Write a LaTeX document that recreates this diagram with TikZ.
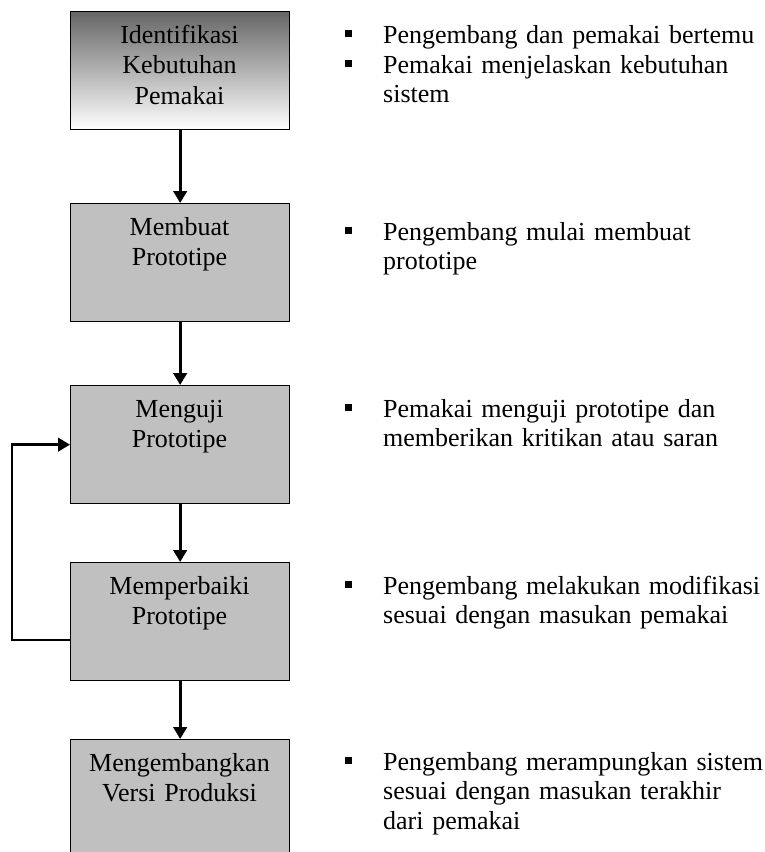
\documentclass[tikz,border=0pt]{standalone}
\usepackage{fontspec}
\setmainfont{Liberation Serif}
\usetikzlibrary{arrows.meta}
\definecolor{boxgray}{HTML}{C0C0C0}
\definecolor{topgray}{HTML}{666666}
\begin{document}
\begin{tikzpicture}[x=1pt,y=-1pt,
  box/.style={draw=black, line width=1.3pt, fill=boxgray, minimum width=219pt,
    minimum height=118pt, inner sep=0pt, anchor=north west},
  boxtext/.style={font=\fontsize{26}{30.5}\selectfont, text width=219pt, align=center,
    anchor=base, inner sep=0pt},
  desc/.style={font=\fontsize{26}{29.5}\selectfont, text width=390pt, align=left,
    anchor=base west, inner sep=0pt},
  bul/.style={fill=black, minimum size=6.5pt, inner sep=0pt},
  flow/.style={line width=2.8pt, -{Triangle[length=12pt,width=13.5pt]}},
  thinline/.style={line width=1.3pt}]
\useasboundingbox (0,0) rectangle (764,852);
\clip (0,0) rectangle (764,852);
% boxes
\node[box, top color=topgray, bottom color=white, draw=black] (b1) at (70,11) {};
\node[box] (b2) at (70,203) {};
\node[box] (b3) at (70,385) {};
\node[box] (b4) at (70,562) {};
\node[box] (b5) at (70,739) {};
% box texts
\node[boxtext] (t1) at (179.5,43) {Identifikasi\\Kebutuhan\\Pemakai};
\node[boxtext] (t2) at (179.5,235) {Membuat\\Prototipe};
\node[boxtext] (t3) at (179.5,417) {Menguji\\Prototipe};
\node[boxtext] (t4) at (179.5,594) {Memperbaiki\\Prototipe};
\node[boxtext] (t5) at (179.5,771) {Mengembangkan\\Versi Produksi};
% arrows
\draw[flow] (b1.south) -- (b2.north);
\draw[flow] (b2.south) -- (b3.north);
\draw[flow] (b3.south) -- (b4.north);
\draw[flow] (b4.south) -- (b5.north);
% feedback
\coordinate (fb) at (12,640);
\draw[thinline] (b4.west |- fb) -- (fb) -- (fb |- b3.west);
\draw[flow] ([xshift=-0.6pt]fb |- b3.west) -- (b3.west);
% descriptions
\node[desc] (r1a) at (383,43) {Pengembang dan pemakai bertemu};
\node[desc] (r1b) at (383,73) {Pemakai menjelaskan kebutuhan\\sistem};
\node[desc] (r2) at (383,240) {Pengembang mulai membuat\\prototipe};
\node[desc] (r3) at (383,417) {Pemakai menguji prototipe dan\\memberikan kritikan atau saran};
\node[desc] (r4) at (383,594) {Pengembang melakukan modifikasi\\sesuai dengan masukan pemakai};
\node[desc] (r5) at (383,770) {Pengembang merampungkan sistem\\sesuai dengan masukan terakhir\\dari pemakai};
% bullets
\node[bul] (p1a) at (348.5,33.5) {};
\node[bul] (p1b) at (348.5,63.5) {};
\node[bul] (p2) at (348.5,230.5) {};
\node[bul] (p3) at (348.5,407.5) {};
\node[bul] (p4) at (348.5,584.5) {};
\node[bul] (p5) at (348.5,760.5) {};
\end{tikzpicture}
\end{document}
